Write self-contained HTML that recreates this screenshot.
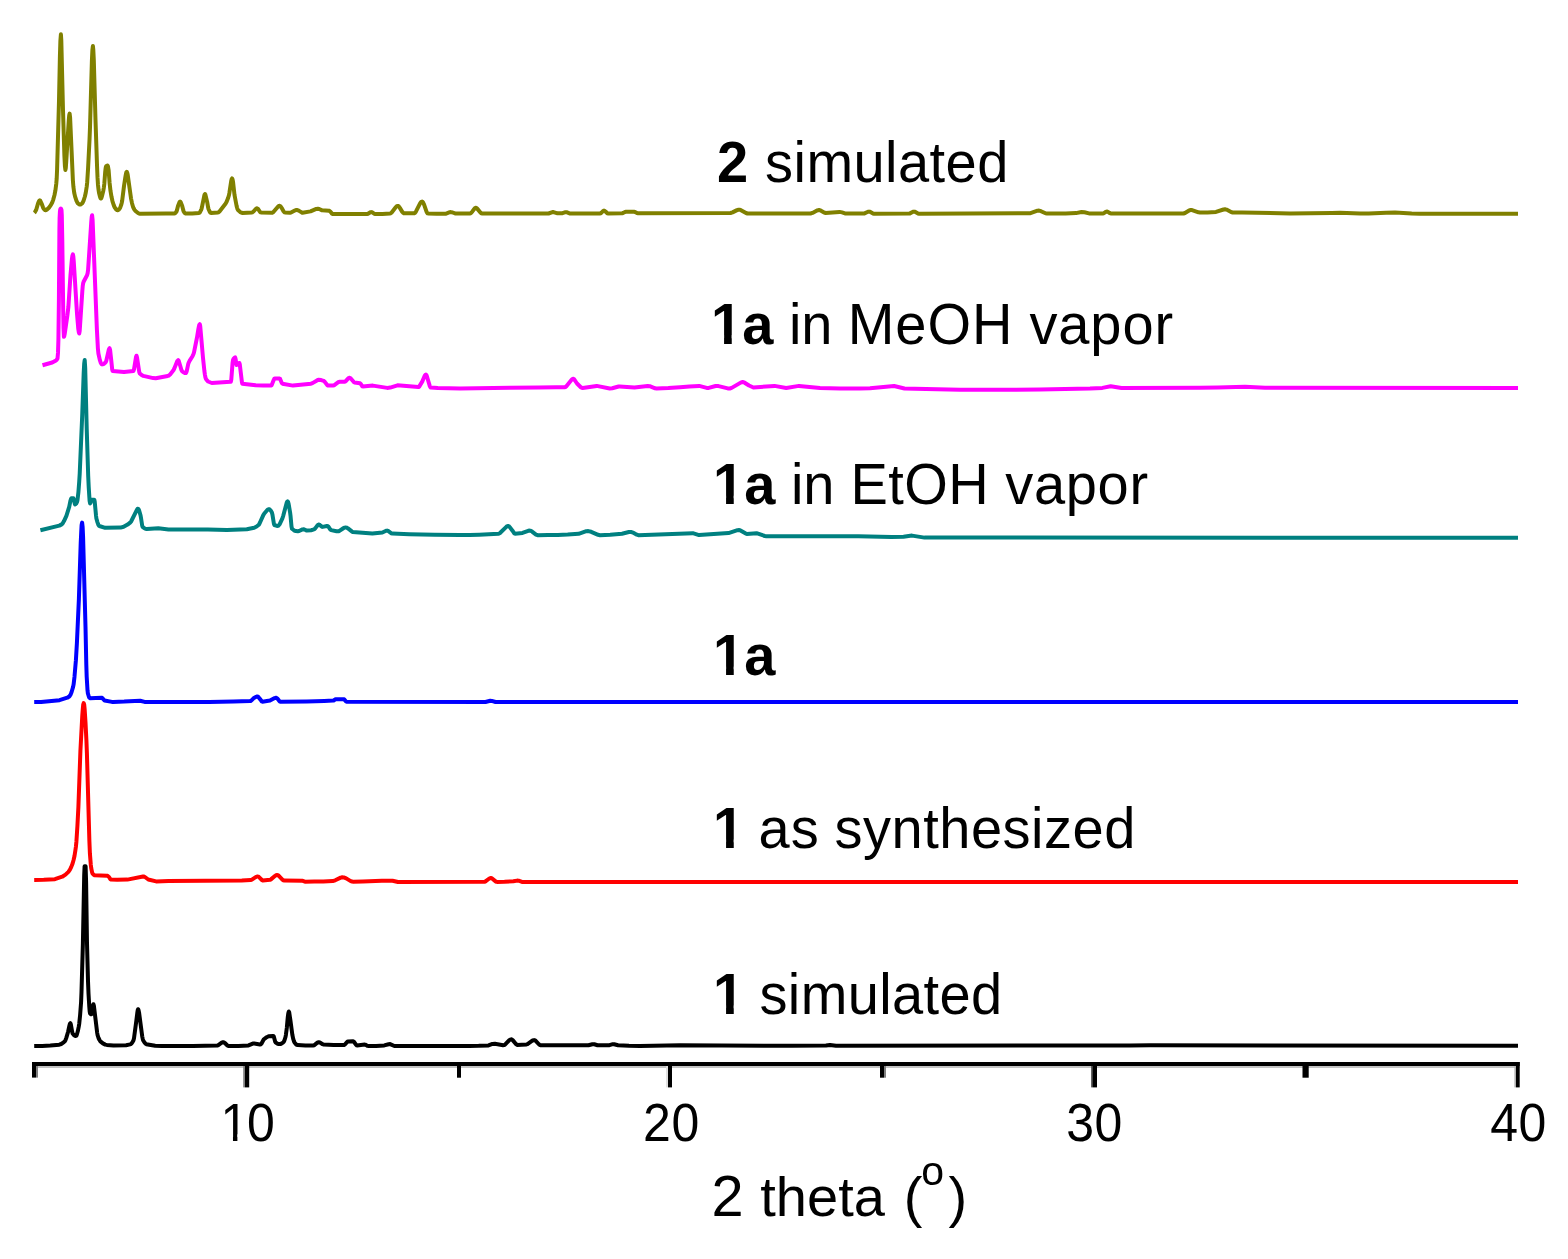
<!DOCTYPE html>
<html lang="en">
<head>
<meta charset="utf-8">
<title>PXRD patterns</title>
<style>
html,body{margin:0;padding:0;background:#fff;}
body{width:1568px;height:1259px;overflow:hidden;}
svg{display:block;}
text{font-family:"Liberation Sans",Arial,Helvetica,sans-serif;fill:#000;}
.lab{font-size:56px;}
.tick{font-size:50px;}
.b{font-weight:bold;}
.c{fill:none;stroke-width:4;stroke-linejoin:round;stroke-linecap:butt;}
</style>
</head>
<body>
<svg width="1568" height="1259" viewBox="0 0 1568 1259">
<rect x="0" y="0" width="1568" height="1259" fill="#ffffff"/>
<polyline class="c" stroke="#808000" points="34.3,212.8 34.8,212.3 35.8,210.6 36.3,209.5 38.0,203.5 38.9,201.4 39.4,200.6 39.8,200.3 40.2,200.6 41.6,203.5 43.1,207.7 43.6,208.6 44.6,209.7 45.1,210.1 45.6,210.2 46.1,210.1 47.0,209.5 48.9,207.7 50.8,205.1 52.2,202.5 53.1,200.1 54.5,195.0 55.4,190.4 56.3,183.4 56.7,178.5 57.1,169.1 59.0,100.7 59.9,56.6 60.4,40.6 60.9,34.3 61.3,40.2 63.0,110.0 64.4,155.7 64.9,166.0 65.4,170.0 65.8,167.8 66.2,162.1 68.8,120.2 69.2,115.4 69.6,113.6 70.1,117.5 72.9,180.6 73.4,186.8 74.2,192.7 75.1,196.6 76.5,200.9 77.5,202.9 78.0,203.5 79.0,204.3 79.5,204.5 80.0,204.6 80.5,204.5 81.5,203.9 82.0,203.5 82.5,202.9 83.5,200.8 84.9,196.5 85.8,192.5 86.7,186.8 87.2,182.2 88.1,168.0 89.5,140.0 90.0,127.3 91.9,60.5 92.4,50.0 92.9,46.0 93.3,49.8 93.8,60.0 95.5,120.0 97.0,165.0 97.5,177.2 98.0,185.0 98.5,189.4 99.0,192.7 100.0,196.7 100.4,198.0 100.9,198.5 101.4,198.0 101.8,196.7 103.3,190.7 103.8,187.8 104.3,184.0 105.2,172.0 105.6,168.5 106.0,166.5 106.5,165.9 107.0,165.6 107.5,165.5 107.9,166.2 108.6,170.0 109.6,183.0 110.5,190.9 111.5,196.8 112.5,201.3 113.9,205.6 114.8,207.6 116.2,209.4 117.1,210.1 117.6,210.2 118.0,210.1 118.9,209.5 119.7,208.5 120.2,207.7 121.2,204.9 121.7,203.0 122.2,200.5 124.0,186.0 125.4,176.8 125.9,174.2 126.3,172.4 126.8,171.8 127.2,172.6 127.7,174.7 131.0,198.3 132.0,203.2 133.0,206.8 133.5,208.0 134.5,209.8 135.5,211.0 138.0,213.0 139.0,213.5 140.0,213.7 165.9,213.6 174.5,213.5 175.0,213.3 175.5,212.9 176.5,211.5 177.0,210.0 178.0,206.0 179.3,202.6 179.7,201.9 180.1,201.6 180.5,201.9 180.9,202.6 182.2,206.0 183.2,210.0 183.7,211.5 184.6,212.9 185.1,213.3 185.5,213.5 192.2,213.4 199.0,213.0 199.5,212.8 200.0,212.2 201.0,210.2 201.5,209.0 201.9,207.3 204.2,196.1 204.6,194.6 205.0,194.0 205.4,194.6 207.2,202.2 208.1,207.3 208.5,209.0 209.5,211.3 210.0,212.2 210.5,212.8 211.0,213.0 218.0,212.5 218.5,212.3 219.5,211.4 225.5,203.8 226.5,202.1 228.0,198.3 229.0,195.0 229.4,192.9 231.2,181.1 231.7,179.1 232.1,178.4 232.6,179.5 233.1,182.4 234.5,194.9 236.5,205.5 237.0,207.5 237.5,209.1 238.0,210.0 240.0,211.9 241.5,212.7 242.5,213.0 252.0,212.5 252.5,212.3 253.5,211.5 255.5,209.2 256.5,208.4 257.0,208.3 257.5,208.5 258.0,208.9 260.0,211.8 260.5,212.3 261.0,212.5 272.0,212.8 272.5,212.7 273.4,212.1 277.7,206.9 278.6,206.1 279.1,205.9 279.6,205.8 280.1,206.0 280.6,206.4 281.6,207.8 283.5,211.2 284.0,211.8 284.5,212.3 285.0,212.5 290.0,212.8 291.0,212.6 295.3,210.3 296.3,210.0 297.3,210.0 298.7,210.6 301.6,212.4 302.5,212.8 310.5,211.4 316.3,208.9 317.8,208.7 319.2,209.0 322.1,210.3 329.0,210.7 329.5,210.9 330.5,211.8 332.0,213.6 332.5,214.0 333.0,214.1 367.0,214.0 368.0,213.8 370.4,212.3 371.4,212.1 371.9,212.2 374.1,213.7 374.6,213.9 375.0,214.0 382.5,213.9 390.0,213.5 390.5,213.4 391.5,212.7 395.9,207.1 396.8,206.2 397.3,206.0 397.8,205.9 398.3,206.0 398.8,206.4 399.7,207.6 402.1,211.6 403.1,212.8 403.5,213.2 404.0,213.3 414.0,213.3 414.5,213.2 414.9,212.9 415.9,211.7 420.2,203.2 421.1,202.0 421.6,201.7 422.1,201.6 422.6,201.8 423.1,202.5 424.1,204.7 426.5,211.6 427.0,212.6 427.5,213.3 428.0,213.5 436.5,213.7 445.5,213.8 449.8,212.2 450.8,212.1 452.7,212.5 455.1,213.4 456.0,213.5 470.0,213.5 470.5,213.4 471.0,213.1 472.4,211.4 474.4,208.7 474.8,208.2 475.3,207.9 475.8,207.8 476.3,207.9 477.2,208.6 480.6,212.7 481.5,213.4 482.0,213.5 548.5,213.5 552.5,212.1 553.5,212.1 557.5,213.3 562.5,213.2 565.5,212.2 566.5,212.2 569.5,213.4 600.0,213.5 600.5,213.4 601.5,212.6 603.0,211.1 603.5,210.7 604.0,210.6 604.5,210.7 605.5,211.5 607.0,213.0 607.5,213.4 608.0,213.5 622.0,213.3 623.0,213.0 625.0,212.0 626.0,211.8 634.0,211.8 635.0,212.0 637.0,213.1 638.0,213.3 730.5,213.0 732.5,212.4 737.0,210.1 738.5,209.7 739.5,209.7 741.0,210.2 746.0,213.0 747.5,213.5 810.5,213.5 812.5,212.9 817.0,210.5 818.5,210.1 819.5,210.1 821.0,210.7 824.5,212.7 825.5,213.0 839.5,211.9 842.0,212.4 845.0,213.4 846.0,213.5 864.5,213.4 868.0,211.8 869.0,211.6 870.0,211.8 873.0,213.5 874.0,213.7 909.5,213.6 913.0,211.8 914.0,211.6 915.0,211.8 918.0,213.5 919.0,213.7 1030.5,213.2 1037.5,210.7 1039.0,210.6 1041.0,211.2 1045.5,213.3 1047.0,213.5 1065.7,213.4 1076.0,213.1 1081.5,212.0 1084.5,212.3 1089.0,213.4 1103.0,213.5 1103.5,213.4 1106.0,211.8 1106.5,211.6 1107.0,211.5 1107.5,211.6 1110.0,213.2 1110.5,213.4 1111.0,213.5 1183.5,213.5 1185.0,213.0 1189.5,210.3 1190.5,210.0 1192.0,210.1 1198.5,212.3 1200.0,212.5 1207.5,212.4 1216.0,211.9 1223.5,209.5 1225.0,209.3 1226.5,209.6 1231.5,212.2 1232.5,212.5 1242.0,212.4 1290.0,213.5 1331.7,212.9 1340.0,212.8 1360.0,213.6 1368.8,213.4 1386.2,212.8 1395.0,212.6 1403.3,212.9 1411.7,213.4 1420.0,213.7 1518.0,213.7"/>
<polyline class="c" stroke="#ff00ff" points="42.5,365.2 52.2,362.5 56.0,360.4 56.5,360.0 57.0,359.4 57.5,358.5 58.0,352.9 58.4,340.0 58.9,300.0 59.4,229.8 59.6,218.0 59.9,212.1 60.2,209.5 60.5,208.8 60.8,208.5 61.1,208.9 61.5,210.0 61.8,215.3 62.3,241.3 63.2,310.0 63.5,328.0 63.9,336.8 64.3,336.0 64.7,333.9 67.4,315.2 68.4,306.8 70.5,275.0 71.9,259.1 72.4,255.7 72.9,254.4 73.3,256.1 73.7,260.6 77.0,313.6 78.3,329.0 78.8,332.2 79.2,333.5 79.7,330.9 82.3,291.3 82.7,286.3 83.1,283.4 83.6,281.8 86.8,275.7 87.2,274.7 87.6,273.4 88.1,269.8 91.3,221.4 91.7,216.9 92.1,215.2 92.6,220.0 96.9,329.7 97.9,348.6 98.4,353.5 99.8,359.9 100.7,362.7 101.2,363.6 101.6,364.2 102.1,364.4 103.0,364.2 104.0,363.8 105.4,362.5 105.9,361.9 106.3,360.8 108.8,349.8 109.2,348.7 109.6,348.2 110.1,350.0 111.4,361.7 112.2,369.5 112.6,371.0 124.0,371.9 133.5,371.0 134.0,369.4 136.0,357.0 136.5,355.7 137.0,357.3 138.9,369.7 139.3,372.2 139.8,373.5 141.3,374.8 143.3,375.9 153.2,378.1 155.7,378.2 167.7,376.0 168.7,375.6 170.1,374.5 173.4,370.3 174.3,368.5 177.3,361.1 177.8,360.5 178.2,360.2 178.7,360.7 180.5,366.7 181.5,370.2 182.0,371.2 183.4,372.3 184.8,373.0 185.8,373.1 186.3,372.5 186.8,370.9 188.2,364.2 188.7,362.6 189.7,360.6 192.5,356.2 193.5,354.0 194.0,352.4 197.0,337.5 198.4,328.8 198.9,326.5 199.3,324.8 199.8,324.2 200.2,325.9 203.0,357.8 204.4,371.1 204.9,374.6 205.4,377.4 205.9,378.9 206.8,380.2 208.1,381.5 211.8,383.0 230.3,381.8 230.8,381.7 231.3,379.5 232.6,362.5 233.1,359.7 233.9,358.3 234.4,357.8 234.8,357.5 235.2,357.4 235.7,359.4 236.1,363.0 236.6,365.0 237.6,363.5 238.9,363.1 239.4,363.1 239.8,364.4 241.9,382.1 242.3,383.7 255.7,385.2 263.4,385.5 271.0,385.6 271.5,385.3 271.9,384.5 273.9,379.6 274.3,378.8 274.8,378.5 279.6,378.5 280.1,378.9 281.9,383.2 282.4,383.7 293.0,385.6 311.0,383.7 312.5,383.1 317.4,380.2 318.3,379.8 321.2,380.1 323.6,380.8 324.1,381.1 325.0,382.1 327.0,384.7 327.4,385.2 327.9,385.5 333.0,385.6 334.0,385.4 338.3,382.2 339.3,381.8 344.6,381.7 345.1,381.6 346.0,380.9 348.0,378.6 348.9,377.9 349.4,377.8 349.9,377.9 350.8,378.5 353.6,381.8 354.5,382.5 360.0,383.3 360.5,383.6 361.9,385.7 362.3,386.3 362.8,386.5 372.9,385.6 387.2,387.9 390.2,387.6 397.5,385.3 418.3,387.1 418.8,387.0 419.2,386.6 422.5,381.1 424.4,376.4 424.9,375.5 425.4,374.8 425.9,374.6 426.3,375.0 426.8,376.0 429.8,386.1 430.3,387.1 430.7,387.5 437.9,387.9 460.0,388.4 510.0,387.8 538.7,387.4 556.1,387.3 564.8,387.2 565.3,387.1 566.2,386.4 571.8,379.6 572.7,378.9 573.2,378.8 573.7,378.9 574.2,379.3 577.0,383.5 580.8,387.2 581.8,387.8 582.7,388.0 596.7,385.9 609.7,388.5 612.2,388.3 618.6,386.5 619.6,386.4 634.5,387.5 647.7,385.9 649.7,386.2 655.1,388.3 656.6,388.5 668.3,388.0 680.0,387.2 689.4,386.4 699.2,385.9 706.7,387.9 708.7,387.9 715.6,386.0 718.5,386.1 727.8,388.4 729.8,388.5 731.7,387.9 740.7,382.6 742.1,382.1 743.1,382.1 744.6,382.7 749.0,385.5 753.4,387.5 774.5,385.9 786.2,388.0 799.0,385.9 820.0,388.0 840.0,388.4 850.0,388.5 860.0,388.4 870.0,388.2 894.1,386.0 904.5,388.5 914.7,388.8 960.0,389.7 1016.0,389.7 1040.0,389.5 1090.0,388.5 1102.4,387.9 1110.7,386.3 1121.5,388.0 1200.0,387.8 1218.0,387.4 1236.0,386.9 1245.0,386.8 1265.0,387.8 1518.0,388.0"/>
<polyline class="c" stroke="#008080" points="40.4,530.2 59.3,525.6 61.7,524.4 62.6,523.5 64.0,521.1 66.4,515.8 69.2,506.9 70.5,500.5 71.0,498.9 71.4,498.2 73.4,498.2 73.8,499.2 74.7,503.4 75.1,504.4 75.6,504.2 76.1,503.7 77.1,501.8 77.5,500.0 78.4,492.3 79.2,481.8 79.7,473.8 82.2,415.7 83.7,372.9 84.2,363.6 84.7,360.1 85.2,367.8 86.7,428.4 88.2,476.0 88.7,486.8 89.6,500.8 90.1,503.5 90.5,502.9 91.4,500.4 91.8,499.8 94.3,499.8 94.7,501.5 96.0,515.4 96.4,518.5 97.4,522.1 98.3,524.7 98.8,525.6 99.3,526.0 105.2,527.8 120.6,527.6 123.6,526.8 127.6,524.6 130.1,522.7 131.1,521.5 137.0,509.6 137.5,508.9 138.0,508.7 138.5,509.1 139.0,510.1 140.5,515.2 140.9,517.3 142.2,525.7 142.6,526.9 144.0,528.0 145.4,528.7 146.8,528.9 158.3,528.3 168.5,529.4 198.3,529.4 207.8,529.5 226.9,530.0 246.8,529.2 254.2,527.7 256.6,526.5 258.5,525.0 259.0,524.5 259.9,522.8 263.3,515.1 264.3,513.5 267.1,510.2 268.1,509.5 268.5,509.3 269.0,509.2 269.5,509.3 270.0,509.7 270.9,510.8 271.9,512.5 272.4,514.4 273.9,523.7 274.4,525.0 276.3,525.7 277.7,525.9 278.2,525.8 278.6,525.5 279.6,524.3 282.4,518.3 283.3,515.6 286.7,502.7 287.2,501.7 287.6,501.3 288.1,502.0 288.6,503.8 290.1,512.5 290.6,516.6 291.5,526.5 292.0,528.8 293.9,530.3 295.8,531.1 297.7,531.3 299.1,531.0 302.5,529.4 303.5,529.3 304.4,529.5 306.8,530.6 311.1,530.2 314.0,529.4 314.5,529.1 315.4,528.1 317.4,525.5 317.8,525.0 318.3,524.6 318.8,524.5 319.3,524.6 321.6,526.5 322.1,526.8 322.6,526.9 326.9,526.0 327.4,526.0 327.9,526.2 328.4,526.6 330.2,529.3 330.7,529.8 331.2,530.1 336.5,531.2 338.4,531.3 339.8,530.7 343.7,528.0 344.6,527.6 345.6,527.4 346.6,527.6 348.0,528.4 351.8,531.4 352.7,531.9 372.4,533.6 382.4,532.5 386.1,530.8 387.1,530.6 388.1,530.9 391.4,533.3 392.4,533.6 409.3,534.3 434.6,534.8 460.0,534.9 469.6,534.9 479.2,534.7 488.9,534.3 498.5,533.7 499.0,533.6 500.0,533.0 506.3,526.9 507.2,526.2 508.2,526.0 508.7,526.1 509.6,526.9 512.5,530.7 514.0,533.0 514.5,533.5 515.0,533.7 522.5,532.9 528.2,530.8 529.6,530.6 530.6,530.8 532.1,531.6 536.0,534.6 537.0,535.0 538.0,535.2 547.9,535.1 557.8,534.9 567.7,534.5 578.6,533.8 586.3,531.2 588.3,531.1 591.2,531.8 598.1,534.8 600.0,535.2 610.2,534.8 622.0,533.7 628.9,532.0 630.9,531.9 632.9,532.6 636.8,534.7 638.3,535.2 692.8,533.2 699.0,535.1 728.5,533.1 737.5,530.2 739.0,530.1 740.0,530.2 745.8,533.6 746.7,533.9 756.5,533.2 764.8,536.0 766.3,536.2 858.3,536.3 891.7,536.9 903.5,536.7 912.0,535.6 924.5,537.6 1518.0,537.7"/>
<polyline class="c" stroke="#0000ff" points="34.2,702.0 41.1,701.9 59.5,700.2 67.3,697.7 69.2,696.5 69.7,696.0 70.7,694.4 71.6,692.0 73.1,686.9 73.6,684.4 74.5,676.7 75.9,660.2 76.9,643.1 78.9,598.8 80.7,543.3 81.2,532.6 81.6,525.2 82.1,522.6 82.6,526.7 83.1,537.5 85.5,626.9 86.3,664.5 86.7,676.9 87.5,690.3 87.9,693.5 88.8,696.4 89.2,697.4 89.7,698.0 90.1,698.2 101.4,697.7 101.9,697.8 102.8,698.6 104.2,700.1 104.6,700.5 111.9,701.9 113.4,701.9 124.2,701.6 140.1,700.7 144.6,701.9 156.8,702.1 209.2,702.0 233.7,701.6 250.0,701.1 250.5,701.0 251.5,700.3 253.5,698.3 256.2,696.8 257.1,696.5 257.6,696.5 258.1,696.7 260.5,699.6 261.4,701.0 261.9,701.5 262.4,701.7 270.0,700.6 274.7,698.1 275.6,697.8 276.1,697.8 276.6,697.9 277.6,698.8 279.5,701.2 280.0,701.6 280.5,701.7 306.8,701.5 324.3,701.0 333.1,700.6 333.6,700.5 335.5,699.3 343.7,699.2 344.2,699.4 346.0,701.5 346.5,701.7 485.5,702.0 490.3,700.8 491.8,700.9 495.5,702.0 1518.0,702.0"/>
<polyline class="c" stroke="#ff0000" points="34.2,879.9 43.8,879.8 54.9,879.2 62.2,876.7 65.5,874.6 68.4,871.9 69.8,869.9 71.2,867.1 72.6,863.5 73.5,860.3 74.5,856.0 75.4,850.3 75.9,846.8 76.4,841.7 77.4,826.2 78.4,806.8 80.4,751.0 82.3,715.3 82.8,708.9 83.2,704.7 83.7,703.1 84.2,704.6 84.6,708.7 85.5,722.5 86.4,740.0 86.9,753.0 89.4,841.4 89.9,853.5 90.8,864.7 91.2,868.0 92.1,872.4 92.5,873.5 93.5,874.6 94.5,875.2 107.0,875.7 107.5,875.8 109.0,877.0 110.5,879.3 111.0,879.6 117.2,879.8 127.4,879.6 143.0,876.5 144.0,876.6 144.9,877.0 148.3,879.5 156.1,881.4 168.5,881.0 241.8,880.4 250.5,880.1 251.9,879.6 255.7,877.1 257.1,876.5 257.6,876.5 258.1,876.6 259.0,877.1 261.9,880.0 262.8,880.5 270.0,879.8 270.9,879.4 275.2,875.8 276.1,875.2 277.1,875.0 277.6,875.1 278.6,875.6 282.4,879.6 283.4,880.3 283.9,880.5 284.4,880.6 302.1,880.7 304.9,881.7 314.3,881.6 323.3,881.4 332.7,881.1 335.2,880.3 340.7,877.6 342.2,877.3 343.7,877.4 346.2,878.4 350.7,881.1 352.2,881.6 353.2,881.7 362.8,881.5 381.9,880.8 392.5,880.7 398.0,882.0 399.0,882.1 484.5,881.8 485.5,881.4 489.3,878.5 490.3,878.1 490.8,878.0 491.8,878.2 495.6,881.4 496.5,881.8 497.0,881.9 504.5,881.8 513.4,881.3 517.1,880.6 518.6,880.7 522.0,881.9 523.0,882.0 1518.0,882.0"/>
<polyline class="c" stroke="#000000" points="34.2,1046.0 42.3,1045.9 50.3,1045.5 59.3,1044.7 61.2,1044.0 63.6,1042.4 65.0,1041.0 65.4,1040.3 66.3,1037.9 68.1,1031.7 69.5,1025.2 69.9,1023.8 70.4,1023.2 70.8,1024.2 72.2,1032.0 72.6,1033.5 74.0,1035.1 75.0,1035.8 75.9,1036.0 76.4,1035.6 76.8,1034.7 77.8,1031.3 78.7,1026.9 79.2,1024.0 80.1,1015.1 81.1,1001.8 81.5,991.8 82.9,943.4 84.2,875.4 84.6,866.2 85.6,866.2 86.1,882.1 87.0,943.4 88.0,981.1 88.5,993.5 89.3,1006.9 89.7,1011.5 90.1,1013.5 90.9,1014.2 91.3,1014.3 91.7,1013.3 93.0,1005.3 93.4,1004.2 93.9,1005.8 97.2,1033.0 97.6,1035.2 98.5,1038.0 99.5,1040.0 100.4,1041.4 102.9,1043.4 105.3,1044.6 106.8,1044.9 113.5,1045.4 126.1,1045.2 130.1,1044.4 130.6,1044.2 131.6,1043.4 132.5,1042.1 133.5,1040.2 134.0,1038.3 136.4,1020.2 137.3,1012.9 137.7,1010.3 138.1,1009.2 138.6,1010.3 139.1,1012.8 142.2,1036.3 142.7,1038.7 143.1,1040.2 144.5,1042.5 145.4,1043.6 146.3,1044.2 155.2,1045.7 161.8,1045.9 192.9,1045.9 217.4,1045.5 218.3,1045.2 221.7,1042.7 222.6,1042.3 223.1,1042.2 223.6,1042.3 224.6,1042.8 227.4,1045.5 228.4,1046.0 228.9,1046.1 238.4,1046.0 248.5,1045.4 252.8,1043.6 254.2,1043.5 259.9,1044.5 260.4,1044.5 260.9,1044.3 261.4,1043.7 263.8,1039.3 266.7,1037.2 268.6,1036.3 273.3,1035.9 273.8,1036.5 275.2,1041.7 275.7,1042.6 277.6,1043.7 279.1,1044.1 280.1,1044.1 281.1,1043.8 282.5,1042.9 283.5,1042.0 284.0,1041.3 284.5,1040.2 285.5,1037.0 285.9,1034.8 286.8,1028.0 287.8,1017.0 288.3,1013.3 288.8,1011.5 289.2,1012.4 290.4,1020.4 292.3,1034.5 293.2,1038.8 294.1,1041.6 294.5,1042.5 295.9,1044.1 296.8,1044.8 297.7,1045.1 305.4,1045.4 313.0,1045.5 314.0,1045.3 317.4,1042.7 318.3,1042.3 318.8,1042.2 319.8,1042.4 322.6,1044.2 323.6,1044.5 333.6,1045.0 343.7,1045.1 344.2,1045.0 345.1,1044.3 347.0,1042.1 347.9,1041.4 353.2,1041.3 353.7,1041.5 354.1,1042.0 356.1,1044.8 356.5,1045.3 357.0,1045.5 364.7,1044.6 365.6,1044.8 367.6,1045.9 368.5,1046.1 376.1,1045.9 384.3,1045.4 388.6,1044.2 390.1,1044.1 394.4,1046.0 395.3,1046.1 469.3,1045.9 478.7,1045.8 488.5,1045.4 492.4,1043.9 494.9,1043.8 503.1,1045.2 504.1,1045.1 505.0,1044.7 509.3,1040.2 510.2,1039.6 511.2,1039.3 511.7,1039.4 512.7,1040.1 516.1,1044.2 517.1,1044.9 526.5,1044.4 527.5,1044.1 532.3,1040.7 533.2,1040.3 534.2,1040.1 534.7,1040.2 535.7,1040.8 539.1,1044.5 540.1,1045.1 540.6,1045.2 588.5,1045.2 592.4,1044.2 594.3,1044.3 597.5,1045.2 609.5,1045.2 612.8,1044.2 614.2,1044.2 618.0,1045.2 629.0,1045.8 640.0,1046.0 680.0,1045.2 791.7,1045.8 826.0,1045.5 830.0,1044.9 836.0,1045.7 1130.0,1045.5 1150.0,1045.2 1518.0,1045.8"/>
<g>
<rect x="32" y="1066" width="1487.7" height="2" fill="#c4c4c4"/>
<rect x="36" y="1062" width="2.0" height="15.6" fill="#808080"/>
<rect x="32" y="1062" width="4.0" height="15.6" fill="#000"/>
<rect x="243.2" y="1062" width="1.8" height="25.4" fill="#808080"/>
<rect x="245" y="1062" width="4.2" height="25.4" fill="#000"/>
<rect x="457" y="1062" width="4.0" height="15.7" fill="#000"/>
<rect x="666" y="1062" width="2.0" height="25.4" fill="#e0e0e0"/>
<rect x="668" y="1062" width="4.0" height="25.4" fill="#000"/>
<rect x="884" y="1062" width="2.0" height="15.7" fill="#808080"/>
<rect x="880" y="1062" width="4.0" height="15.7" fill="#000"/>
<rect x="1091.2" y="1062" width="1.8" height="25.4" fill="#404040"/>
<rect x="1093" y="1062" width="4.0" height="25.4" fill="#000"/>
<rect x="1302.5" y="1062" width="6.2" height="15.7" fill="#000"/>
<rect x="1514.4" y="1062" width="1.6" height="25.4" fill="#b0b0b0"/>
<rect x="1516" y="1062" width="3.7" height="25.4" fill="#000"/>
<rect x="32" y="1062" width="1487.7" height="4" fill="#000"/>
</g>
<text class="tick" transform="translate(0 1140.8) scale(1 1.08)"><tspan x="220.4">1</tspan><tspan x="247.0">0</tspan></text>
<text class="tick" transform="translate(0 1140.8) scale(1 1.08)"><tspan x="642.9">2</tspan><tspan x="671.6">0</tspan></text>
<text class="tick" transform="translate(0 1140.8) scale(1 1.08)"><tspan x="1066.2">3</tspan><tspan x="1094.4">0</tspan></text>
<text class="tick" transform="translate(0 1140.8) scale(1 1.08)"><tspan x="1490.2">4</tspan><tspan x="1518.6">0</tspan></text>
<text class="lab" y="1216.1"><tspan x="711.6" style="font-size:57.7px">2</tspan> <tspan x="760.3">theta</tspan> <tspan x="903.7">(</tspan><tspan x="921.3" dy="-31" style="font-size:41px">o</tspan><tspan x="948.6" dy="31">)</tspan></text>
<text class="lab" transform="translate(0 182.0) scale(1 1.04)"><tspan x="716.9" class="b">2</tspan> <tspan x="765.1" style="letter-spacing:0.45px">simulated</tspan></text>
<text class="lab" transform="translate(0 343.6) scale(1 1.04)"><tspan x="711.0" class="b">1a</tspan> <tspan x="788.9">in</tspan> <tspan x="847.7" style="letter-spacing:1.0px">MeOH</tspan> <tspan x="1029.4" style="letter-spacing:0.9px">vapor</tspan></text>
<text class="lab" transform="translate(0 504.2) scale(1 1.04)"><tspan x="713.0" class="b">1a</tspan> <tspan x="790.9">in</tspan> <tspan x="850.4" style="letter-spacing:0.5px">EtOH</tspan> <tspan x="1005.2" style="letter-spacing:0.7px">vapor</tspan></text>
<text class="lab" transform="translate(0 675.1) scale(1 1.04)"><tspan x="713.0" class="b">1a</tspan></text>
<text class="lab" transform="translate(0 848.0) scale(1 1.04)"><tspan x="713.0" class="b">1</tspan> <tspan x="758.6" style="letter-spacing:1.0px">as</tspan> <tspan x="834.6" style="letter-spacing:0.5px">synthesized</tspan></text>
<text class="lab" transform="translate(0 1013.9) scale(1 1.04)"><tspan x="713.0" class="b">1</tspan> <tspan x="759.4" style="letter-spacing:0.4px">simulated</tspan></text>
<rect x="713.53" y="335.10" width="10.54" height="10.00" fill="#fff"/>
<rect x="731.75" y="335.10" width="9.43" height="10.00" fill="#fff"/>
<rect x="715.53" y="495.70" width="10.54" height="10.00" fill="#fff"/>
<rect x="733.75" y="495.70" width="9.43" height="10.00" fill="#fff"/>
<rect x="715.53" y="666.60" width="10.54" height="10.00" fill="#fff"/>
<rect x="733.75" y="666.60" width="9.43" height="10.00" fill="#fff"/>
<rect x="715.53" y="839.50" width="10.54" height="10.00" fill="#fff"/>
<rect x="733.75" y="839.50" width="9.43" height="10.00" fill="#fff"/>
<rect x="715.53" y="1005.40" width="10.54" height="10.00" fill="#fff"/>
<rect x="733.75" y="1005.40" width="9.43" height="10.00" fill="#fff"/>
<rect x="223.21" y="1134.30" width="9.76" height="8.00" fill="#fff"/>
<rect x="237.39" y="1134.30" width="9.07" height="8.00" fill="#fff"/>
</svg>
</body>
</html>
